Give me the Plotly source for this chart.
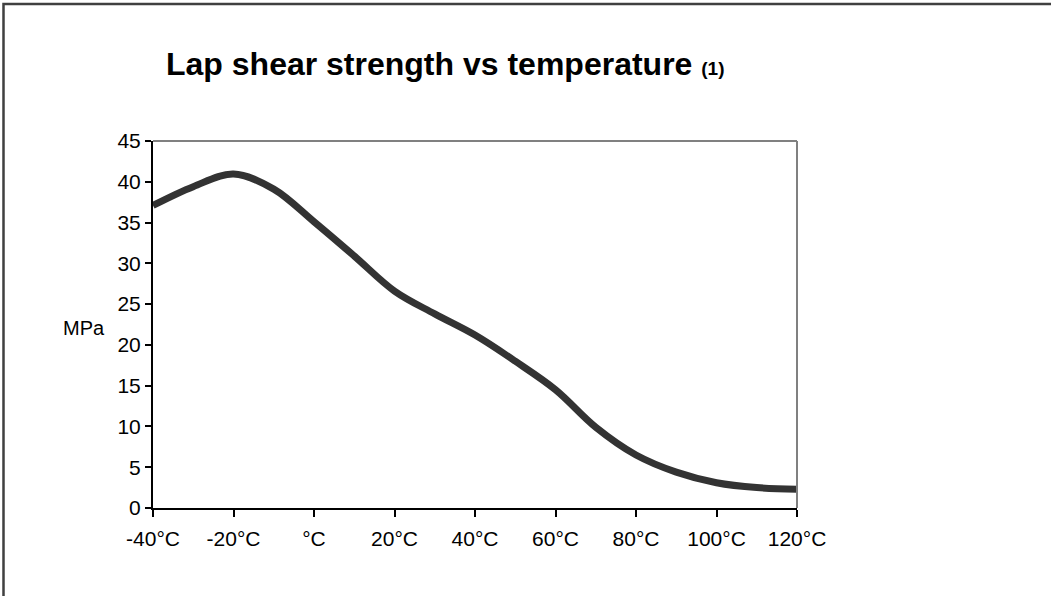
import plotly.graph_objects as go

# Data
temperature_c = [-40, -30, -20, -10, 0, 10, 20, 30, 40, 50, 60, 70, 80, 90, 100, 110, 120]
strength_mpa = [37.1, 39.4, 40.95, 39.1, 35.1, 30.9, 26.6, 23.8, 21.2, 18.0, 14.5, 9.9, 6.5, 4.4, 3.1, 2.5, 2.3]

tick_values = [-40, -20, 0, 20, 40, 60, 80, 100, 120]
tick_labels = ["-40°C", "-20°C", "°C", "20°C", "40°C", "60°C", "80°C", "100°C", "120°C"]
y_ticks = [0, 5, 10, 15, 20, 25, 30, 35, 40, 45]

W, H = 1051, 596
L, R, T, B = 153, 254, 141, 88
pw, ph = W - L - R, H - T - B

def px_x(x):
    return (x - L) / pw

def px_y(y):
    return (H - B - y) / ph

FONT = "Liberation Sans, Arial, sans-serif"

fig = go.Figure()
fig.add_trace(go.Scatter(
    x=temperature_c, y=strength_mpa, mode="lines",
    line=dict(color="#333333", width=7, shape="spline", smoothing=1.0),
    showlegend=False, hoverinfo="skip",
))

fig.update_layout(
    width=W, height=H,
    margin=dict(l=L, r=R, t=T, b=B),
    paper_bgcolor="white", plot_bgcolor="white",
    font=dict(family=FONT, color="black", size=21),
    xaxis=dict(
        range=[-40, 120], tickvals=tick_values, ticktext=tick_labels,
        showgrid=False, zeroline=False, showline=True, linecolor="black", linewidth=2,
        ticks="outside", ticklen=7, tickwidth=2, tickcolor="black",
        tickfont=dict(size=21, family=FONT), ticklabelstandoff=4,
    ),
    yaxis=dict(
        range=[0, 45], tickvals=y_ticks,
        showgrid=False, zeroline=False, showline=True, linecolor="black", linewidth=2,
        ticks="outside", ticklen=6, tickwidth=2, tickcolor="black",
        tickfont=dict(size=21, family=FONT), ticklabelstandoff=0,
    ),
    shapes=[
        # top and right plot-area border (gray)
        dict(type="line", xref="paper", yref="paper", x0=0, x1=1, y0=1, y1=1,
             line=dict(color="#808080", width=2)),
        dict(type="line", xref="paper", yref="paper", x0=1, x1=1, y0=0, y1=1,
             line=dict(color="#808080", width=2)),
        # outer chart border
        dict(type="rect", xref="paper", yref="paper",
             x0=px_x(3.5), x1=px_x(1070), y0=px_y(620), y1=px_y(4),
             line=dict(color="#404040", width=2.5), fillcolor="rgba(0,0,0,0)", layer="above"),
    ],
    annotations=[
        dict(xref="paper", yref="paper", x=px_x(164), y=px_y(64), xanchor="left", yanchor="middle",
             text="<b>Lap shear strength vs temperature <span style='font-size:19px'>(1)</span></b>",
             showarrow=False, font=dict(size=32, family=FONT, color="black")),
        dict(xref="paper", yref="paper", x=px_x(84), y=px_y(328), xanchor="center", yanchor="middle",
             text="MPa", showarrow=False, font=dict(size=20, family=FONT, color="black")),
    ],
)

fig.write_html("out.html", config={"displayModeBar": False},
               post_script="document.body.style.margin='0px';")
